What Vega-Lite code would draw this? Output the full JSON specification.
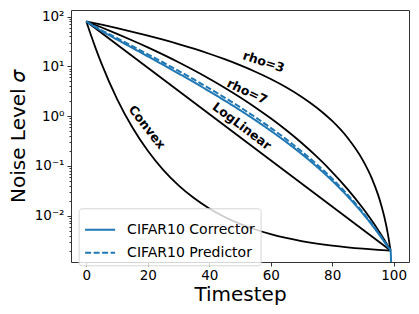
{
  "$schema": "https://vega.github.io/schema/vega-lite/v6.json",
  "width": 338,
  "height": 252,
  "autosize": {"type": "none"},
  "padding": {"left": 71, "top": 10, "right": 10, "bottom": 52},
  "config": {
    "font": "DejaVu Sans",
    "view": {"stroke": "#333", "strokeWidth": 1},
    "axis": {"domain": false, "grid": false, "tickColor": "#333", "labelColor": "#000", "titleColor": "#000", "labelFontSize": 13.5, "titleFontSize": 20, "titleFontWeight": "normal", "tickSize": 4, "labelPadding": 3},
    "legend": {"orient": "none", "legendX": 7.6, "legendY": 198.3, "labelFontSize": 14, "symbolSize": 900, "symbolStrokeWidth": 2, "symbolType": "stroke", "strokeColor": "#d5d5d5", "fillColor": "rgba(255,255,255,0.8)", "padding": 5.5, "cornerRadius": 3, "rowPadding": -10, "labelOffset": 11, "labelColor": "#000"}
  },
  "datasets": {
    "black": [
      {"curve": "rho3", "t": 0, "sigma": 80}, {"curve": "rho3", "t": 5, "sigma": 68.8}, {"curve": "rho3", "t": 10, "sigma": 58.7}, {"curve": "rho3", "t": 15, "sigma": 49.64}, {"curve": "rho3", "t": 20, "sigma": 41.56}, {"curve": "rho3", "t": 25, "sigma": 34.41}, {"curve": "rho3", "t": 30, "sigma": 28.13}, {"curve": "rho3", "t": 35, "sigma": 22.67}, {"curve": "rho3", "t": 40, "sigma": 17.96}, {"curve": "rho3", "t": 45, "sigma": 13.96}, {"curve": "rho3", "t": 50, "sigma": 10.59}, {"curve": "rho3", "t": 55, "sigma": 7.822}, {"curve": "rho3", "t": 60, "sigma": 5.581}, {"curve": "rho3", "t": 65, "sigma": 3.815}, {"curve": "rho3", "t": 70, "sigma": 2.467}, {"curve": "rho3", "t": 75, "sigma": 1.482}, {"curve": "rho3", "t": 80, "sigma": 0.8012}, {"curve": "rho3", "t": 85, "sigma": 0.3694}, {"curve": "rho3", "t": 90, "sigma": 0.1297}, {"curve": "rho3", "t": 93, "sigma": 0.05466}, {"curve": "rho3", "t": 95, "sigma": 0.02567}, {"curve": "rho3", "t": 96, "sigma": 0.01615}, {"curve": "rho3", "t": 97, "sigma": 0.009327}, {"curve": "rho3", "t": 98, "sigma": 0.004762}, {"curve": "rho3", "t": 99, "sigma": 0.002},
      {"curve": "rho7", "t": 0, "sigma": 80}, {"curve": "rho7", "t": 5, "sigma": 60.4}, {"curve": "rho7", "t": 10, "sigma": 45.05}, {"curve": "rho7", "t": 15, "sigma": 33.18}, {"curve": "rho7", "t": 20, "sigma": 24.1}, {"curve": "rho7", "t": 25, "sigma": 17.23}, {"curve": "rho7", "t": 30, "sigma": 12.12}, {"curve": "rho7", "t": 35, "sigma": 8.365}, {"curve": "rho7", "t": 40, "sigma": 5.655}, {"curve": "rho7", "t": 45, "sigma": 3.736}, {"curve": "rho7", "t": 50, "sigma": 2.404}, {"curve": "rho7", "t": 55, "sigma": 1.502}, {"curve": "rho7", "t": 60, "sigma": 0.9071}, {"curve": "rho7", "t": 65, "sigma": 0.5268}, {"curve": "rho7", "t": 70, "sigma": 0.2922}, {"curve": "rho7", "t": 75, "sigma": 0.1536}, {"curve": "rho7", "t": 80, "sigma": 0.0756}, {"curve": "rho7", "t": 85, "sigma": 0.03436}, {"curve": "rho7", "t": 90, "sigma": 0.01413}, {"curve": "rho7", "t": 93, "sigma": 0.007809}, {"curve": "rho7", "t": 95, "sigma": 0.005104}, {"curve": "rho7", "t": 97, "sigma": 0.003246}, {"curve": "rho7", "t": 98, "sigma": 0.002559}, {"curve": "rho7", "t": 99, "sigma": 0.002},
      {"curve": "loglinear", "t": 0, "sigma": 80}, {"curve": "loglinear", "t": 99, "sigma": 0.002},
      {"curve": "convex", "t": 0, "sigma": 80}, {"curve": "convex", "t": 1, "sigma": 52.18}, {"curve": "convex", "t": 2, "sigma": 34.61}, {"curve": "convex", "t": 3, "sigma": 23.33}, {"curve": "convex", "t": 5, "sigma": 11.107}, {"curve": "convex", "t": 10, "sigma": 2.2124}, {"curve": "convex", "t": 15, "sigma": 0.592}, {"curve": "convex", "t": 20, "sigma": 0.2017}, {"curve": "convex", "t": 25, "sigma": 0.08366}, {"curve": "convex", "t": 30, "sigma": 0.04076}, {"curve": "convex", "t": 35, "sigma": 0.02265}, {"curve": "convex", "t": 40, "sigma": 0.01402}, {"curve": "convex", "t": 45, "sigma": 0.00947}, {"curve": "convex", "t": 50, "sigma": 0.006874}, {"curve": "convex", "t": 55, "sigma": 0.005291}, {"curve": "convex", "t": 60, "sigma": 0.004271}, {"curve": "convex", "t": 65, "sigma": 0.003586}, {"curve": "convex", "t": 70, "sigma": 0.003108}, {"curve": "convex", "t": 75, "sigma": 0.002765}, {"curve": "convex", "t": 80, "sigma": 0.002513}, {"curve": "convex", "t": 85, "sigma": 0.002325}, {"curve": "convex", "t": 90, "sigma": 0.002182}, {"curve": "convex", "t": 95, "sigma": 0.002071}, {"curve": "convex", "t": 99, "sigma": 0.002}
    ],
    "blue": [
      {"series": "CIFAR10 Corrector", "t": 0, "sigma": 80}, {"series": "CIFAR10 Corrector", "t": 5, "sigma": 51.23}, {"series": "CIFAR10 Corrector", "t": 10, "sigma": 34.57}, {"series": "CIFAR10 Corrector", "t": 15, "sigma": 23.46}, {"series": "CIFAR10 Corrector", "t": 20, "sigma": 15.91}, {"series": "CIFAR10 Corrector", "t": 25, "sigma": 10.75}, {"series": "CIFAR10 Corrector", "t": 30, "sigma": 7.215}, {"series": "CIFAR10 Corrector", "t": 35, "sigma": 4.805}, {"series": "CIFAR10 Corrector", "t": 40, "sigma": 3.167}, {"series": "CIFAR10 Corrector", "t": 45, "sigma": 2.062}, {"series": "CIFAR10 Corrector", "t": 50, "sigma": 1.321}, {"series": "CIFAR10 Corrector", "t": 55, "sigma": 0.8309}, {"series": "CIFAR10 Corrector", "t": 60, "sigma": 0.51}, {"series": "CIFAR10 Corrector", "t": 65, "sigma": 0.3045}, {"series": "CIFAR10 Corrector", "t": 70, "sigma": 0.1754}, {"series": "CIFAR10 Corrector", "t": 75, "sigma": 0.09677}, {"series": "CIFAR10 Corrector", "t": 80, "sigma": 0.05052}, {"series": "CIFAR10 Corrector", "t": 85, "sigma": 0.02462}, {"series": "CIFAR10 Corrector", "t": 90, "sigma": 0.01104}, {"series": "CIFAR10 Corrector", "t": 93, "sigma": 0.006479}, {"series": "CIFAR10 Corrector", "t": 95, "sigma": 0.004433}, {"series": "CIFAR10 Corrector", "t": 97, "sigma": 0.002977}, {"series": "CIFAR10 Corrector", "t": 98, "sigma": 0.002426}, {"series": "CIFAR10 Corrector", "t": 99, "sigma": 0.002}, {"series": "CIFAR10 Corrector", "t": 100, "sigma": 0.00000001},
      {"series": "CIFAR10 Predictor", "t": 0, "sigma": 80}, {"series": "CIFAR10 Predictor", "t": 5, "sigma": 53.21}, {"series": "CIFAR10 Predictor", "t": 10, "sigma": 36.75}, {"series": "CIFAR10 Predictor", "t": 15, "sigma": 25.42}, {"series": "CIFAR10 Predictor", "t": 20, "sigma": 17.51}, {"series": "CIFAR10 Predictor", "t": 25, "sigma": 11.98}, {"series": "CIFAR10 Predictor", "t": 30, "sigma": 8.133}, {"series": "CIFAR10 Predictor", "t": 35, "sigma": 5.462}, {"series": "CIFAR10 Predictor", "t": 40, "sigma": 3.621}, {"series": "CIFAR10 Predictor", "t": 45, "sigma": 2.365}, {"series": "CIFAR10 Predictor", "t": 50, "sigma": 1.517}, {"series": "CIFAR10 Predictor", "t": 55, "sigma": 0.9524}, {"series": "CIFAR10 Predictor", "t": 60, "sigma": 0.5825}, {"series": "CIFAR10 Predictor", "t": 65, "sigma": 0.3455}, {"series": "CIFAR10 Predictor", "t": 70, "sigma": 0.1973}, {"series": "CIFAR10 Predictor", "t": 75, "sigma": 0.1077}, {"series": "CIFAR10 Predictor", "t": 80, "sigma": 0.05546}, {"series": "CIFAR10 Predictor", "t": 85, "sigma": 0.02659}, {"series": "CIFAR10 Predictor", "t": 90, "sigma": 0.01169}, {"series": "CIFAR10 Predictor", "t": 93, "sigma": 0.006764}, {"series": "CIFAR10 Predictor", "t": 95, "sigma": 0.00458}, {"series": "CIFAR10 Predictor", "t": 97, "sigma": 0.003037}, {"series": "CIFAR10 Predictor", "t": 98, "sigma": 0.002456}, {"series": "CIFAR10 Predictor", "t": 99, "sigma": 0.002}
    ],
    "labels": [
      {"label": "rho=3", "t": 57.7, "sigma": 12.3},
      {"label": "rho=7", "t": 52.3, "sigma": 3.1},
      {"label": "LogLinear", "t": 50.6, "sigma": 0.63},
      {"label": "Convex", "t": 19.7, "sigma": 0.6}
    ]
  },
  "layer": [
    {
      "data": {"name": "black"},
      "mark": {"type": "line", "color": "black", "strokeWidth": 1.8, "interpolate": "monotone", "clip": true},
      "encoding": {
        "x": {"field": "t", "type": "quantitative", "scale": {"domain": [-5, 105], "nice": false, "zero": false}, "axis": {"values": [0, 20, 40, 60, 80, 100], "title": "Timestep", "titleY": 38, "titleBaseline": "alphabetic", "labelPadding": 2, "labelFlush": false}},
        "y": {"field": "sigma", "type": "quantitative", "scale": {"type": "log", "domain": [0.001178, 135.8], "nice": false}, "axis": {"values": [0.01, 0.1, 1, 10, 100], "labelExpr": "datum.value >= 50 ? '10²' : datum.value >= 5 ? '10¹' : datum.value >= 0.5 ? '10⁰' : datum.value >= 0.05 ? '10⁻¹' : '10⁻²'", "title": "Noise Level 𝜎", "titleX": -53, "titleY": 126, "titleAngle": -90, "titleBaseline": "middle", "titleAlign": "center"}},
        "detail": {"field": "curve"}
      }
    },
    {
      "data": {"name": "blue"},
      "mark": {"type": "line", "strokeWidth": 2, "interpolate": "monotone", "clip": true},
      "encoding": {
        "x": {"field": "t", "type": "quantitative"},
        "y": {"field": "sigma", "type": "quantitative", "axis": {"orient": "left", "values": [0.002, 0.003, 0.004, 0.005, 0.006, 0.007, 0.008, 0.009, 0.02, 0.03, 0.04, 0.05, 0.06, 0.07, 0.08, 0.09, 0.2, 0.3, 0.4, 0.5, 0.6, 0.7, 0.8, 0.9, 2, 3, 4, 5, 6, 7, 8, 9, 20, 30, 40, 50, 60, 70, 80, 90], "labels": false, "tickSize": 2, "title": null}},
        "color": {"field": "series", "type": "nominal", "scale": {"domain": ["CIFAR10 Corrector", "CIFAR10 Predictor"], "range": ["#1f77b4", "#1f77b4"]}, "legend": {"title": null}},
        "strokeDash": {"field": "series", "type": "nominal", "scale": {"domain": ["CIFAR10 Corrector", "CIFAR10 Predictor"], "range": [[1, 0], [6, 2.5]]}, "legend": {"title": null}}
      }
    },
    {
      "data": {"name": "labels"},
      "transform": [{"filter": "datum.label === 'rho=3'"}],
      "mark": {"type": "text", "angle": 18, "fontWeight": "bold", "fontSize": 12.5, "color": "black"},
      "encoding": {"x": {"field": "t", "type": "quantitative"}, "y": {"field": "sigma", "type": "quantitative", "axis": null}, "text": {"field": "label"}}
    },
    {
      "data": {"name": "labels"},
      "transform": [{"filter": "datum.label === 'rho=7'"}],
      "mark": {"type": "text", "angle": 25, "fontWeight": "bold", "fontSize": 12.5, "color": "black"},
      "encoding": {"x": {"field": "t", "type": "quantitative"}, "y": {"field": "sigma", "type": "quantitative", "axis": null}, "text": {"field": "label"}}
    },
    {
      "data": {"name": "labels"},
      "transform": [{"filter": "datum.label === 'LogLinear'"}],
      "mark": {"type": "text", "angle": 37, "fontWeight": "bold", "fontSize": 12.5, "color": "black"},
      "encoding": {"x": {"field": "t", "type": "quantitative"}, "y": {"field": "sigma", "type": "quantitative", "axis": null}, "text": {"field": "label"}}
    },
    {
      "data": {"name": "labels"},
      "transform": [{"filter": "datum.label === 'Convex'"}],
      "mark": {"type": "text", "angle": 52, "fontWeight": "bold", "fontSize": 12.5, "color": "black"},
      "encoding": {"x": {"field": "t", "type": "quantitative"}, "y": {"field": "sigma", "type": "quantitative", "axis": null}, "text": {"field": "label"}}
    }
  ],
  "resolve": {"axis": {"y": "independent"}}
}
